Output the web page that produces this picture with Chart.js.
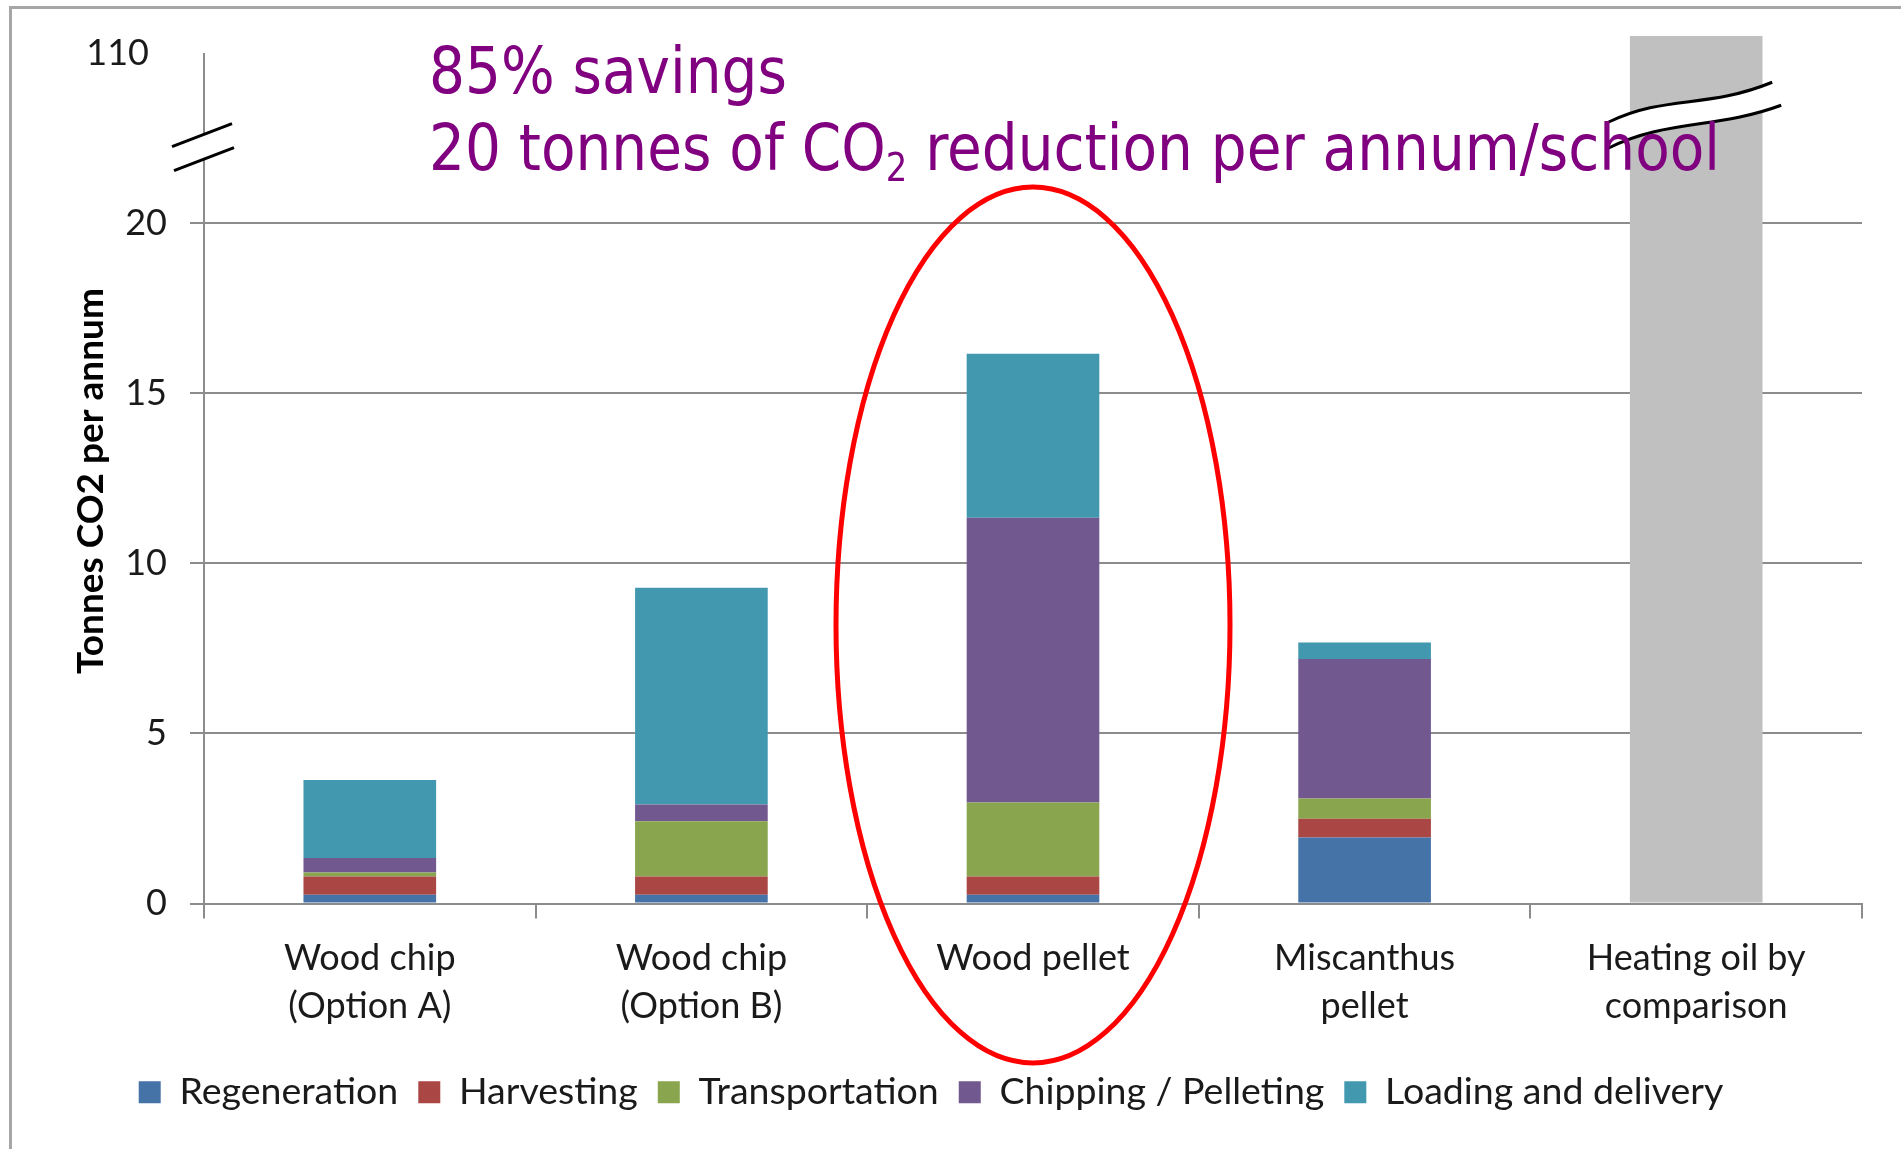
<!DOCTYPE html>
<html>
<head>
<meta charset="utf-8">
<script src="https://cdn.jsdelivr.net/npm/chart.js@4"></script>
<style>
    html, body { margin: 0; padding: 0; background: #ffffff; overflow: hidden; }
    #frame {
        position: absolute; left: 9px; top: 6px; width: 1900px; height: 1150px;
        border-top: 3px solid #a6a6a6; border-left: 3px solid #a6a6a6;
    }
    #wrap { position: absolute; left: 0; top: 0; width: 1901px; height: 1149px; }
    #note {
        position: absolute; left: 429px; top: 33px;
        color: #800080; font-family: "DejaVu Sans Condensed", "DejaVu Sans", sans-serif;
        font-stretch: condensed; font-size: 64px; line-height: 77px;
        white-space: nowrap; transform-origin: 0 0;
    }
    #note sub { font-size: 0.6em; vertical-align: -0.28em; line-height: 0; }
</style>
</head>
<body>
<div id="frame"></div>
<div id="wrap"><canvas id="co2Chart"></canvas></div>
<div id="note"><span>85% savings</span><br><span id="line2">20 tonnes of CO<sub>2</sub> reduction per annum/school</span></div>

<script>
// Categories and series (tonnes CO2 per annum)
const categories = [["Wood chip", "(Option A)"], ["Wood chip", "(Option B)"], "Wood pellet", ["Miscanthus", "pellet"], ["Heating oil by", "comparison"]];
const seriesNames = ["Regeneration", "Harvesting", "Transportation", "Chipping / Pelleting", "Loading and delivery"];
const regeneration = [0.26, 0.26, 0.26, 1.94, null];
const harvesting = [0.53, 0.53, 0.53, 0.55, null];
const transportation = [0.12, 1.63, 2.18, 0.60, null];
const chippingPelleting = [0.43, 0.49, 8.37, 4.10, null];
const loadingDelivery = [2.29, 6.37, 4.82, 0.48, null];
const heatingOil = [null, null, null, null, 110];

// Y axis ticks: the top one stands for 110 above the axis break
const yTickValues = [0, 5, 10, 15, 20, 25];
const yTickLabels = ["0", "5", "10", "15", "20", "110"];
const yAxisTitle = "Tonnes CO2 per annum";

const seriesColors = ["#4572A7", "#AA4643", "#89A54E", "#71588F", "#4198AF"];
const BREAK_FROM = 20;   // values above this go off the broken axis
const Y_MAX = 25.5;
const AXIS_BREAK_VALUE = 22.25;
const BAR_BREAK_VALUE = 23.2;
const GRID = "#8c8c8c";
const TEXT = "#1a1a1a";

// values past the break are drawn up to the top of the plot
function broken(v) {
    if (v === null) return null;
    return v > BREAK_FROM ? Y_MAX : v;
}

const stacks = [regeneration, harvesting, transportation, chippingPelleting, loadingDelivery];
const datasets = stacks.map((values, i) => ({
    label: seriesNames[i],
    data: values,
    backgroundColor: seriesColors[i],
    borderWidth: 0
}));
datasets.push({
    label: "Heating oil",
    data: heatingOil.map(broken),
    backgroundColor: "#C0C0C0",
    borderWidth: 0
});

// Axis line, axis title, break marks and the red ellipse
const decorations = {
    id: "decorations",
    beforeDatasetsDraw(chart) {
        const { ctx, chartArea, scales: { y } } = chart;
        ctx.save();
        ctx.strokeStyle = GRID;
        ctx.lineWidth = 2;
        ctx.beginPath();
        ctx.moveTo(chartArea.left, y.getPixelForValue(yTickValues[yTickValues.length - 1]));
        ctx.lineTo(chartArea.left, chartArea.bottom);
        ctx.stroke();

        // rotated y axis title
        ctx.translate(91, 481);
        ctx.rotate(-Math.PI / 2);
        ctx.fillStyle = "#000000";
        ctx.font = "bold 37px Lato";
        ctx.textAlign = "center";
        ctx.textBaseline = "middle";
        ctx.fillText(yAxisTitle, 0, 0);
        ctx.restore();
    },
    afterDatasetsDraw(chart) {
        const { ctx, chartArea, scales: { x, y } } = chart;
        ctx.save();
        ctx.lineWidth = 3;
        ctx.strokeStyle = "#000000";
        ctx.fillStyle = "#ffffff";

        // break on the y axis
        const ax = chartArea.left;
        const ay = y.getPixelForValue(AXIS_BREAK_VALUE);
        ctx.beginPath();
        ctx.moveTo(ax - 32, ay);
        ctx.lineTo(ax + 28, ay - 23);
        ctx.lineTo(ax + 30, ay + 1);
        ctx.lineTo(ax - 30, ay + 24);
        ctx.closePath();
        ctx.fill();
        ctx.beginPath();
        ctx.moveTo(ax - 32, ay);
        ctx.lineTo(ax + 28, ay - 23);
        ctx.moveTo(ax - 30, ay + 24);
        ctx.lineTo(ax + 30, ay + 1);
        ctx.stroke();

        // break across the heating oil bar
        const bx = x.getPixelForValue(4);
        const by = y.getPixelForValue(BAR_BREAK_VALUE);
        ctx.beginPath();
        ctx.moveTo(bx - 88, by + 8);
        ctx.bezierCurveTo(bx - 30, by - 20, bx + 10, by - 5, bx + 76, by - 32);
        ctx.lineTo(bx + 85, by - 9);
        ctx.bezierCurveTo(bx + 20, by + 15, bx - 30, by + 5, bx - 88, by + 34);
        ctx.closePath();
        ctx.fill();
        ctx.beginPath();
        ctx.moveTo(bx - 88, by + 8);
        ctx.bezierCurveTo(bx - 30, by - 20, bx + 10, by - 5, bx + 76, by - 32);
        ctx.moveTo(bx + 85, by - 9);
        ctx.bezierCurveTo(bx + 20, by + 15, bx - 30, by + 5, bx - 88, by + 34);
        ctx.stroke();
        ctx.restore();
    },
    afterDraw(chart) {
        const { ctx, scales: { x } } = chart;
        ctx.save();
        ctx.strokeStyle = "#ff0000";
        ctx.lineWidth = 5;
        ctx.beginPath();
        ctx.ellipse(x.getPixelForValue(2), 625, 197, 438, 0, 0, Math.PI * 2);
        ctx.stroke();
        ctx.restore();
    }
};

const ctx = document.getElementById("co2Chart").getContext("2d");
const co2Chart = new Chart(ctx, {
    type: "bar",
    data: { labels: categories, datasets: datasets },
    plugins: [decorations],
    options: {
        responsive: true,
        maintainAspectRatio: false,
        animation: false,
        events: [],
        layout: { padding: { top: 36, right: 39, bottom: 28, left: 0 } },
        datasets: { bar: { categoryPercentage: 1, barPercentage: 0.4 } },
        plugins: {
            tooltip: { enabled: false },
            title: { display: false },
            legend: {
                position: "bottom",
                labels: {
                    filter: (item) => item.datasetIndex < seriesNames.length,
                    boxWidth: 22,
                    boxHeight: 22,
                    padding: 20,
                    color: TEXT,
                    font: { family: "Lato", size: 37.5 }
                }
            }
        },
        scales: {
            x: {
                stacked: true,
                afterFit: (scale) => { scale.height = 150; },
                grid: { offset: true, drawOnChartArea: false, tickLength: 15, color: GRID, lineWidth: 2 },
                border: { display: true, color: GRID, width: 2 },
                ticks: {
                    color: TEXT,
                    padding: 16,
                    maxRotation: 0,
                    autoSkip: false,
                    font: { family: "Lato", size: 36, lineHeight: 48 / 36 }
                }
            },
            y: {
                stacked: true,
                min: 0,
                max: Y_MAX,
                afterFit: (scale) => {
                    scale.width = 204;
                    scale.paddingTop = 0;
                    scale.paddingBottom = 0;
                },
                afterBuildTicks: (scale) => { scale.ticks = yTickValues.map(v => ({ value: v })); },
                grid: {
                    tickLength: 14,
                    lineWidth: 2,
                    color: (c) => (c.tick && c.tick.value > BREAK_FROM) ? "rgba(0,0,0,0)" : GRID
                },
                border: { display: false },
                ticks: {
                    color: TEXT,
                    padding: 23,
                    font: { family: "Lato", size: 36 },
                    callback: (value) => {
                        const i = yTickValues.indexOf(value);
                        if (i < 0) return "";
                        // the broken-axis label sits a little further out
                        return value > BREAK_FROM ? yTickLabels[i] + "\u2002" : yTickLabels[i];
                    }
                },
                title: { display: false }
            }
        }
    }
});

// fit the purple note to its width in the picture
const note = document.getElementById("note");
const line2 = document.getElementById("line2");
const w = line2.getBoundingClientRect().width;
note.style.transform = "scaleX(" + (1291 / w) + ")";
</script>
</body>
</html>
